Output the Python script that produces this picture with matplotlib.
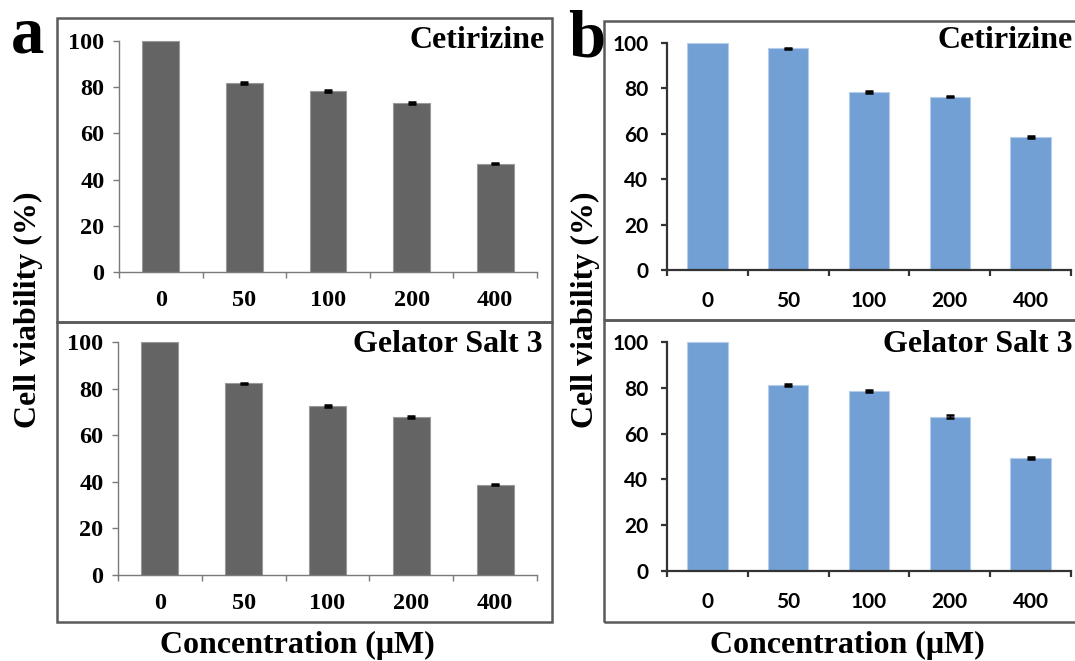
import numpy as np
import matplotlib
matplotlib.use('Agg')
import matplotlib.pyplot as plt
from matplotlib.patches import Rectangle

# Data
concs = ['0', '50', '100', '200', '400']
a_cetirizine = [100, 82.0, 78.4, 73.2, 46.9]
a_cetirizine_err = [0, 0.4, 0.3, 0.3, 0.3]
a_gelator = [100, 82.3, 72.6, 67.7, 38.8]
a_gelator_err = [0, 0.3, 0.3, 0.4, 0.3]
b_cetirizine = [100, 97.6, 78.4, 76.4, 58.7]
b_cetirizine_err = [0, 0.4, 0.3, 0.4, 0.4]
b_gelator = [100, 81.2, 78.6, 67.3, 49.3]
b_gelator_err = [0, 0.5, 0.3, 0.7, 0.3]

W, H = 1075, 661
fig = plt.figure(figsize=(W / 100, H / 100), dpi=100)

serif = 'Liberation Serif'


def fx(px):
    return px / W


def fy(py):
    return 1 - py / H


def add_box(x0, y0, x1, y1):
    fig.patches.append(Rectangle((fx(x0), fy(y1)), fx(x1) - fx(x0), fy(y0) - fy(y1),
                                 transform=fig.transFigure, fill=False,
                                 edgecolor='#5a5a5a', linewidth=1.8))


def panel(left, right, top, bottom, vals, errs, color, edge, width,
          spine_col, spine_lw, tick_font, tick_size, ypad, xpad):
    ax = fig.add_axes([fx(left), fy(bottom), fx(right) - fx(left), fy(top) - fy(bottom)])
    x = np.arange(len(concs))
    ax.bar(x, vals, width=width, color=color, edgecolor=edge, linewidth=0.8, clip_on=False)
    ax.errorbar(x[1:], vals[1:], yerr=errs[1:], fmt='none', ecolor='black',
                elinewidth=1, capsize=3, capthick=1.8, clip_on=False)
    ax.set_xlim(-0.5, len(concs) - 0.5)
    ax.set_ylim(0, 100)
    ax.set_yticks([0, 20, 40, 60, 80, 100])
    ax.set_xticks(np.arange(-0.5, len(concs), 1))
    ax.set_xticklabels([])
    ax.set_xticks(x, minor=True)
    ax.set_xticklabels(concs, minor=True)
    for s in ['top', 'right']:
        ax.spines[s].set_visible(False)
    for s in ['left', 'bottom']:
        ax.spines[s].set_color(spine_col)
        ax.spines[s].set_linewidth(spine_lw)
    ax.tick_params(axis='y', length=4.5, width=spine_lw, color=spine_col, pad=ypad)
    ax.tick_params(axis='x', which='major', length=4, width=spine_lw, color=spine_col)
    ax.tick_params(axis='x', which='minor', length=0, pad=xpad)
    for lab in ax.get_yticklabels() + ax.get_xticklabels(minor=True):
        lab.set_fontfamily(tick_font)
        lab.set_fontweight('bold')
        lab.set_fontsize(tick_size)
    ax.patch.set_alpha(0)
    return ax


# frames
add_box(57, 18, 552, 322)
add_box(57, 322, 552, 622)
add_box(604, 21, 1085, 320)
add_box(604, 320, 1085, 622)

gray = '#646464'
blue = '#729fd4'

panel(119, 537, 41, 272, a_cetirizine, a_cetirizine_err, gray, '#9a9a9a', 0.44,
      '#7a7a7a', 1.0, serif, 17.5, 6, 13)
panel(118, 537, 342, 575, a_gelator, a_gelator_err, gray, '#9a9a9a', 0.44,
      '#7a7a7a', 1.0, serif, 17.5, 6, 13)
panel(667, 1071, 43, 270, b_cetirizine, b_cetirizine_err, blue, '#b5cdea', 0.5,
      '#333333', 1.6, 'Lato', 15, 9, 15)
panel(667, 1071, 342, 571, b_gelator, b_gelator_err, blue, '#b5cdea', 0.5,
      '#333333', 1.6, 'Lato', 15, 9, 15)

tkw = dict(fontfamily=serif, fontweight='bold', fontsize=23)
fig.text(fx(545), fy(40), 'Cetirizine', ha='right', va='center', **tkw)
fig.text(fx(543), fy(345), 'Gelator Salt 3', ha='right', va='center', **tkw)
fig.text(fx(1073), fy(40), 'Cetirizine', ha='right', va='center', **tkw)
fig.text(fx(1073), fy(345), 'Gelator Salt 3', ha='right', va='center', **tkw)

fig.text(fx(28), fy(310), 'Cell viability (%)', rotation=90, ha='center', va='center', **tkw)
fig.text(fx(585), fy(310), 'Cell viability (%)', rotation=90, ha='center', va='center', **tkw)
fig.text(fx(297), fy(645), 'Concentration (\u03bcM)', ha='center', va='center', **tkw)
fig.text(fx(847), fy(645), 'Concentration (\u03bcM)', ha='center', va='center', **tkw)

fig.text(fx(28), fy(36), 'a', ha='center', va='center', fontfamily=serif,
         fontweight='bold', fontsize=48)
fig.text(fx(587), fy(40), 'b', ha='center', va='center', fontfamily=serif,
         fontweight='bold', fontsize=48)

fig.savefig('out.png', dpi=100)
